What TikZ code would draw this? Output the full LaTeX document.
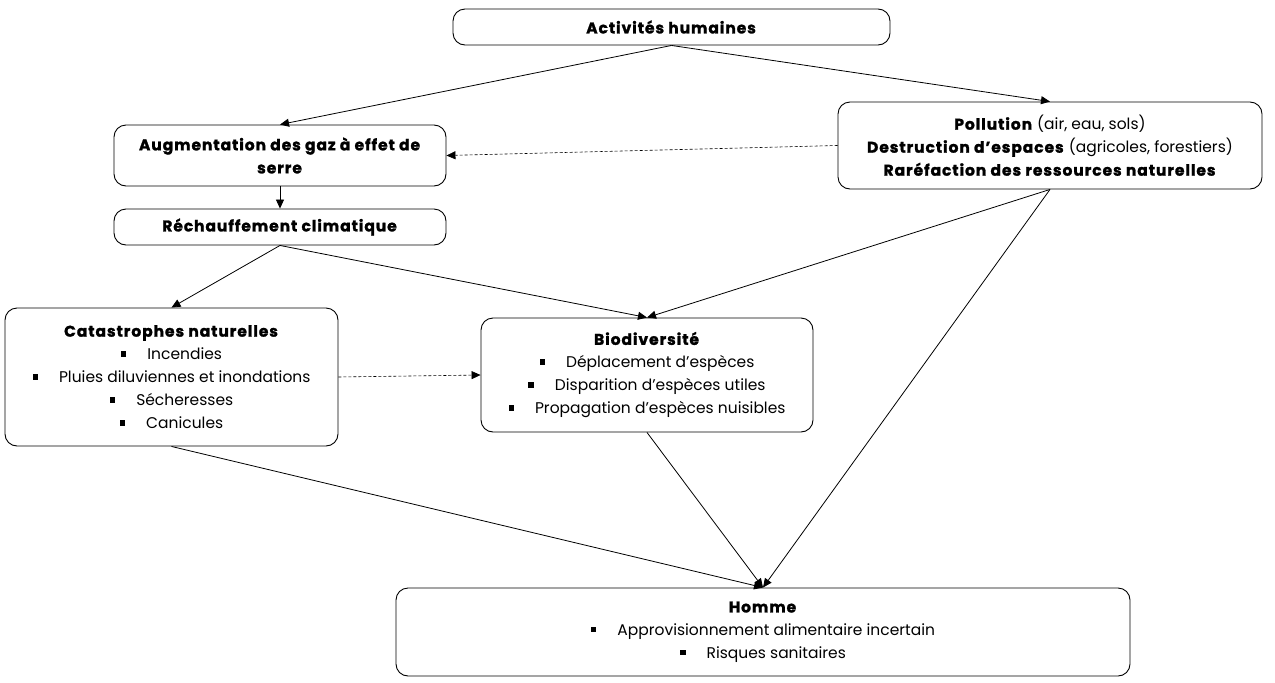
\documentclass[tikz,border=0pt]{standalone}
\usepackage{fontspec}
\setmainfont{Poppins}[BoldFeatures={FakeBold=1.5,LetterSpace=6}]
\usetikzlibrary{arrows.meta}
\newcommand{\bul}{\rule[0.2em]{5.5pt}{5.5pt}\hspace{21pt}}
\tikzset{
  box/.style={draw, rounded corners=12pt, line width=0.9pt, align=center, inner sep=0pt,
    font=\fontsize{15.5}{23}\selectfont},
  arr/.style={line width=0.8pt, -{Triangle[length=9pt,width=8pt]}},
  darr/.style={arr, dashed, dash pattern=on 3pt off 2pt, line width=0.6pt},
}
\begin{document}
\begin{tikzpicture}[x=1pt,y=-1pt]
\useasboundingbox (0,0) rectangle (1275,683);
\node[box, minimum width=437pt, minimum height=36pt] (act) at (671.5,27) {\textbf{Activités humaines}};
\node[box, minimum width=332pt, minimum height=61pt] (aug) at (280,155.5) {\textbf{Augmentation des gaz à effet de}\\\textbf{serre}};
\node[box, minimum width=332pt, minimum height=36pt] (rech) at (280,227) {\textbf{Réchauffement climatique}};
\node[box, minimum width=424pt, minimum height=87pt] (pol) at (1050,145.5) {\textbf{Pollution} (air, eau, sols)\\\textbf{Destruction d’espaces} (agricoles, forestiers)\\\textbf{Raréfaction des ressources naturelles}};
\node[box, minimum width=333pt, minimum height=138pt] (cat) at (171.5,377) {\textbf{Catastrophes naturelles}\\\bul Incendies\\\bul Pluies diluviennes et inondations\\\bul Sécheresses\\\bul Canicules};
\node[box, minimum width=332pt, minimum height=114pt] (bio) at (647,375) {\textbf{Biodiversité}\\\bul Déplacement d’espèces\\\bul Disparition d’espèces utiles\\\bul Propagation d’espèces nuisibles};
\node[box, minimum width=734pt, minimum height=88pt] (hom) at (763,632) {\textbf{Homme}\\\bul Approvisionnement alimentaire incertain\\\bul Risques sanitaires};
\draw[arr] (act.south) -- (aug.north);
\draw[arr] (act.south) -- (pol.north);
\draw[darr] (pol.west) -- (aug.east);
\draw[arr] (aug.south) -- (rech.north);
\draw[arr] (rech.south) -- (cat.north);
\draw[arr] (rech.south) -- (bio.north);
\draw[arr] (pol.south) -- (bio.north);
\draw[arr] (pol.south) -- (hom.north);
\draw[darr] (cat.east) -- (bio.west);
\draw[arr] (cat.south) -- (hom.north);
\draw[arr] (bio.south) -- (hom.north);
\end{tikzpicture}
\end{document}
